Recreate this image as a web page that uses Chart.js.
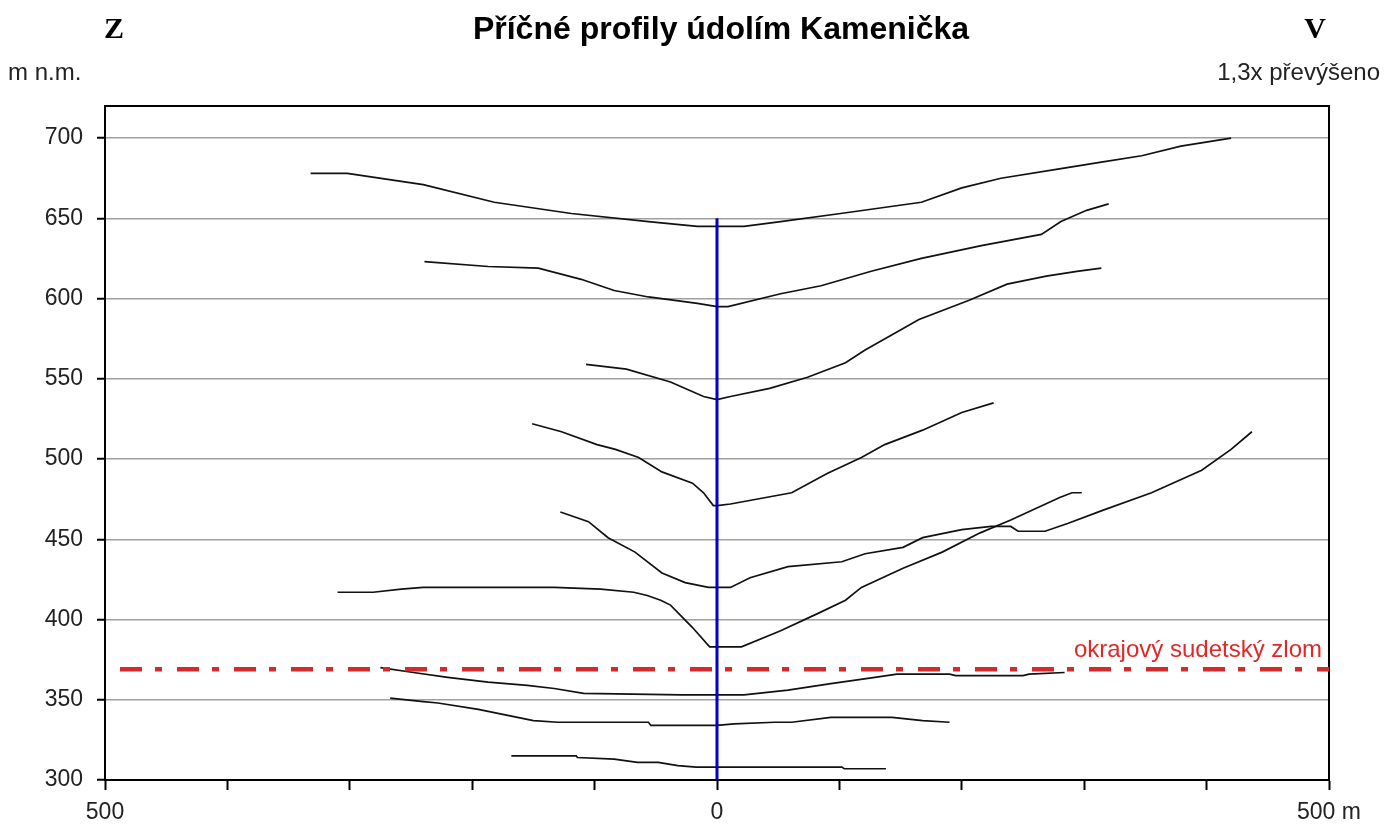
<!DOCTYPE html>
<html>
<head>
<meta charset="utf-8">
<script src="https://cdn.jsdelivr.net/npm/chart.js@4.4.0/dist/chart.umd.min.js"></script>
<style>
  body { margin: 0; background: #fff; }
  canvas { display: block; }
</style>
</head>
<body>
<canvas id="profileChart" width="1386" height="829"></canvas>
<script>
// distance from valley axis (m) and altitude (m n.m.) for each cross profile, top to bottom
const p1x = [-332, -302, -240, -182, -119, -56, -16, 0, 22, 52, 101, 167, 200, 232, 281, 314, 347, 379, 420];
const p1y = [678, 678, 671, 660, 653, 648, 645, 645, 645, 648, 653, 660, 669, 675, 681, 685, 689, 695, 700];

const p2x = [-239, -187, -146, -111, -84, -56, -16, 0, 9, 52, 85, 126, 167, 216, 265, 281, 302, 320];
const p2y = [623, 620, 619, 612, 605, 601, 597, 595, 595, 603, 608, 617, 625, 633, 640, 648, 655, 659];

const p3x = [-107, -74, -38, -11, 0, 11, 43, 74, 105, 121, 165, 206, 237, 269, 294, 314];
const p3y = [559, 556, 548, 539, 537, 539, 544, 551, 560, 568, 587, 599, 609, 614, 617, 619];

const p4x = [-151, -127, -98, -83, -64, -45, -20, -11, -3, 0, 11, 61, 90, 118, 137, 168, 200, 226];
const p4y = [522, 517, 509, 506, 501, 492, 485, 479, 471, 471, 472, 479, 491, 501, 509, 518, 529, 535];

const p5x = [-128, -105, -89, -67, -45, -26, -7, 0, 11, 27, 58, 102, 121, 152, 168, 200, 224, 240, 246, 268, 287, 315, 355, 396, 420, 437];
const p5y = [467, 461, 451, 442, 429, 423, 420, 420, 420, 426, 433, 436, 441, 445, 451, 456, 458, 458, 455, 455, 460, 468, 479, 493, 506, 517];

const p6x = [-310, -281, -258, -240, -133, -95, -68, -57, -46, -38, -29, -20, -6, 0, 20, 52, 83, 105, 118, 152, 184, 215, 240, 280, 290, 298];
const p6y = [417, 417, 419, 420, 420, 419, 417, 415, 412, 409, 402, 395, 383, 383, 383, 393, 404, 412, 420, 432, 442, 454, 462, 476, 479, 479];

const p7x = [-275, -248, -220, -187, -155, -133, -109, -29, 0, 22, 58, 93, 129, 147, 190, 195, 250, 255, 284];
const p7y = [370, 367, 364, 361, 359, 357, 354, 353, 353, 353, 356, 360, 364, 366, 366, 365, 365, 366, 367];

const p8x = [-267, -242, -228, -195, -163, -150, -130, -56, -54, -15, 0, 14, 47, 61, 93, 143, 168, 190];
const p8y = [351, 349, 348, 344, 339, 337, 336, 336, 334, 334, 334, 335, 336, 336, 339, 339, 337, 336];

const p9x = [-168, -115, -114, -84, -65, -48, -32, -17, 0, 102, 104, 138];
const p9y = [315, 315, 314, 313, 311, 311, 309, 308, 308, 308, 307, 307];

// valley axis and the fault line
const axisX = [0, 0];
const axisY = [300, 650];
const faultX = [-500, 500];
const faultY = [369, 369];

const xTicks = [-500, -400, -300, -200, -100, 0, 100, 200, 300, 400, 500];
const xTickLabels = { '-500': '500', '0': '0', '500': '500 m' };
const yTicks = [300, 350, 400, 450, 500, 550, 600, 650, 700];

const zip = (xs, ys) => xs.map((x, i) => ({ x: x, y: ys[i] }));

const profiles = [[p1x, p1y], [p2x, p2y], [p3x, p3y], [p4x, p4y], [p5x, p5y], [p6x, p6y], [p7x, p7y], [p8x, p8y], [p9x, p9y]];

const datasets = [
    {
        data: zip(axisX, axisY),
        borderColor: '#0000c8',
        borderWidth: 3,
    },
    {
        data: zip(faultX, faultY),
        borderColor: '#d42a2a',
        borderWidth: 4.5,
        borderDash: [22, 13, 7, 15],
        borderDashOffset: 42,
    }
];
profiles.forEach(p => {
    datasets.push({
        data: zip(p[0], p[1]),
        borderColor: '#111',
        borderWidth: 1.7,
    });
});

const SANS = '"Liberation Sans", Arial, sans-serif';

// frame and free texts around the plot
const decorations = {
    id: 'decorations',
    beforeDatasetsDraw(chart) {
        const ctx = chart.ctx;
        const a = chart.chartArea;
        ctx.save();
        ctx.strokeStyle = '#000';
        ctx.lineWidth = 2;
        ctx.beginPath();
        ctx.moveTo(a.left, a.top);
        ctx.lineTo(a.right, a.top);
        ctx.lineTo(a.right, a.bottom);
        ctx.stroke();
        ctx.restore();
    },
    afterDraw(chart) {
        const ctx = chart.ctx;
        ctx.save();
        ctx.textBaseline = 'alphabetic';
        ctx.fillStyle = '#000';

        ctx.font = 'bold 32px ' + SANS;
        ctx.textAlign = 'center';
        ctx.fillText('Příčné profily údolím Kamenička', 721, 39);

        ctx.font = 'bold 30px "Liberation Serif", "Times New Roman", serif';
        ctx.fillText('Z', 114, 38);
        ctx.fillText('V', 1315, 38);

        ctx.fillStyle = '#222';
        ctx.font = '24px ' + SANS;
        ctx.textAlign = 'left';
        ctx.fillText('m n.m.', 8, 80);
        ctx.textAlign = 'right';
        ctx.fillText('1,3x převýšeno', 1380, 80);

        ctx.fillStyle = '#e02828';
        ctx.fillText('okrajový sudetský zlom', 1322, 657);
        ctx.restore();
    }
};

new Chart(document.getElementById('profileChart').getContext('2d'), {
    type: 'scatter',
    data: { datasets: datasets },
    options: {
        responsive: false,
        animation: false,
        showLine: true,
        elements: {
            point: { radius: 0, hoverRadius: 0 },
            line: { tension: 0, fill: false }
        },
        layout: { padding: { left: 0, top: 106, right: 57, bottom: 0 } },
        plugins: {
            legend: { display: false },
            tooltip: { enabled: false },
            title: { display: false }
        },
        scales: {
            x: {
                type: 'linear',
                min: -500,
                max: 500,
                afterFit: s => { s.height = 49; },
                afterBuildTicks: s => { s.ticks = xTicks.map(v => ({ value: v })); },
                grid: {
                    drawOnChartArea: false,
                    drawTicks: true,
                    tickLength: 10,
                    tickColor: '#000',
                    tickWidth: 2
                },
                border: { display: true, color: '#000', width: 2 },
                ticks: {
                    autoSkip: false,
                    maxRotation: 0,
                    padding: 9,
                    color: '#222',
                    font: { family: SANS, size: 23 },
                    callback: v => xTickLabels[String(v)] || ''
                }
            },
            y: {
                type: 'linear',
                min: 300,
                max: 720,
                afterFit: s => { s.width = 105; },
                afterBuildTicks: s => { s.ticks = yTicks.map(v => ({ value: v })); },
                grid: {
                    color: '#a0a0a0',
                    lineWidth: 1.5,
                    drawTicks: true,
                    tickLength: 8,
                    tickColor: '#000',
                    tickWidth: 2
                },
                border: { display: true, color: '#000', width: 2 },
                ticks: {
                    padding: 14,
                    color: '#222',
                    font: { family: SANS, size: 23 },
                    callback: v => String(v)
                }
            }
        }
    },
    plugins: [decorations]
});
</script>
</body>
</html>
